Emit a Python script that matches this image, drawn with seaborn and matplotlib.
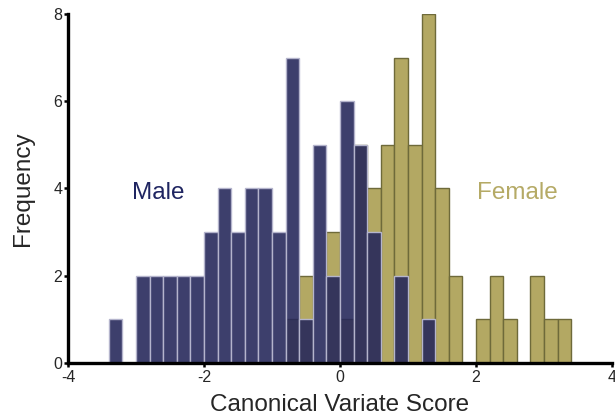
import numpy as np
import pandas as pd
import matplotlib
matplotlib.use("Agg")
import matplotlib.pyplot as plt
import seaborn as sns

sns.set_theme(style="ticks")
plt.rcParams['font.family'] = ['Liberation Sans', 'DejaVu Sans']

# Bin edges (width 0.2) and counts
bin_edges = [round(v, 2) for v in np.arange(-3.4, 3.4001, 0.2)]
bin_centers = [round((a + b) / 2, 2) for a, b in zip(bin_edges[:-1], bin_edges[1:])]
male_counts = [1, 0, 2, 2, 2, 2, 2, 3, 4, 3, 4, 4, 3, 7, 1, 5, 2, 6, 5, 3,
               0, 2, 0, 1, 0, 0, 0, 0, 0, 0, 0, 0, 0, 0]
female_counts = [0, 0, 0, 0, 0, 0, 0, 0, 0, 0, 0, 0, 0, 1, 2, 0, 3, 1, 5, 4,
                 5, 7, 5, 8, 4, 2, 0, 1, 2, 1, 0, 2, 1, 1]
x_ticks = [-4, -2, 0, 2, 4]
y_ticks = [0, 2, 4, 6, 8]

df = pd.DataFrame({"score": bin_centers, "male": male_counts, "female": female_counts})

fig = plt.figure(figsize=(6.15, 4.17), dpi=100)
ax = fig.add_axes([0.1106, 0.130, 0.8846, 0.836])

sns.histplot(data=df, x="score", weights="female", bins=bin_edges, ax=ax,
             color="#b3a863", alpha=1.0, edgecolor="#6e6a3a", linewidth=1.0)
sns.histplot(data=df, x="score", weights="male", bins=bin_edges, ax=ax,
             color="#25275a", alpha=0.89, edgecolor="#b4b4cc", linewidth=1.0)

ax.text(-3.06, 3.9, "Male", color="#1f2561", fontsize=17.5, va="center", ha="left")
ax.text(2.01, 3.9, "Female", color="#b5aa66", fontsize=17.5, va="center", ha="left")

ax.set_xlim(-4, 4)
ax.set_ylim(0, 8)
ax.set_xticks(x_ticks)
ax.set_yticks(y_ticks)
ax.set_xticklabels([str(t) for t in x_ticks])
ax.set_yticklabels([str(t) for t in y_ticks])
ax.set_xlabel("Canonical Variate Score", fontsize=17.5, labelpad=6)
ax.set_ylabel("Frequency", fontsize=17.5, labelpad=14)
ax.tick_params(axis="both", labelsize=11.5, width=1.8, length=3, direction="out", color="black", pad=1)
ax.tick_params(axis="x", pad=2.5)
for s in ["top", "right"]:
    ax.spines[s].set_visible(False)
for s in ["left", "bottom"]:
    ax.spines[s].set_linewidth(2.4)
    ax.spines[s].set_color("black")
ax.grid(False)

fig.savefig("out.png", dpi=100)
